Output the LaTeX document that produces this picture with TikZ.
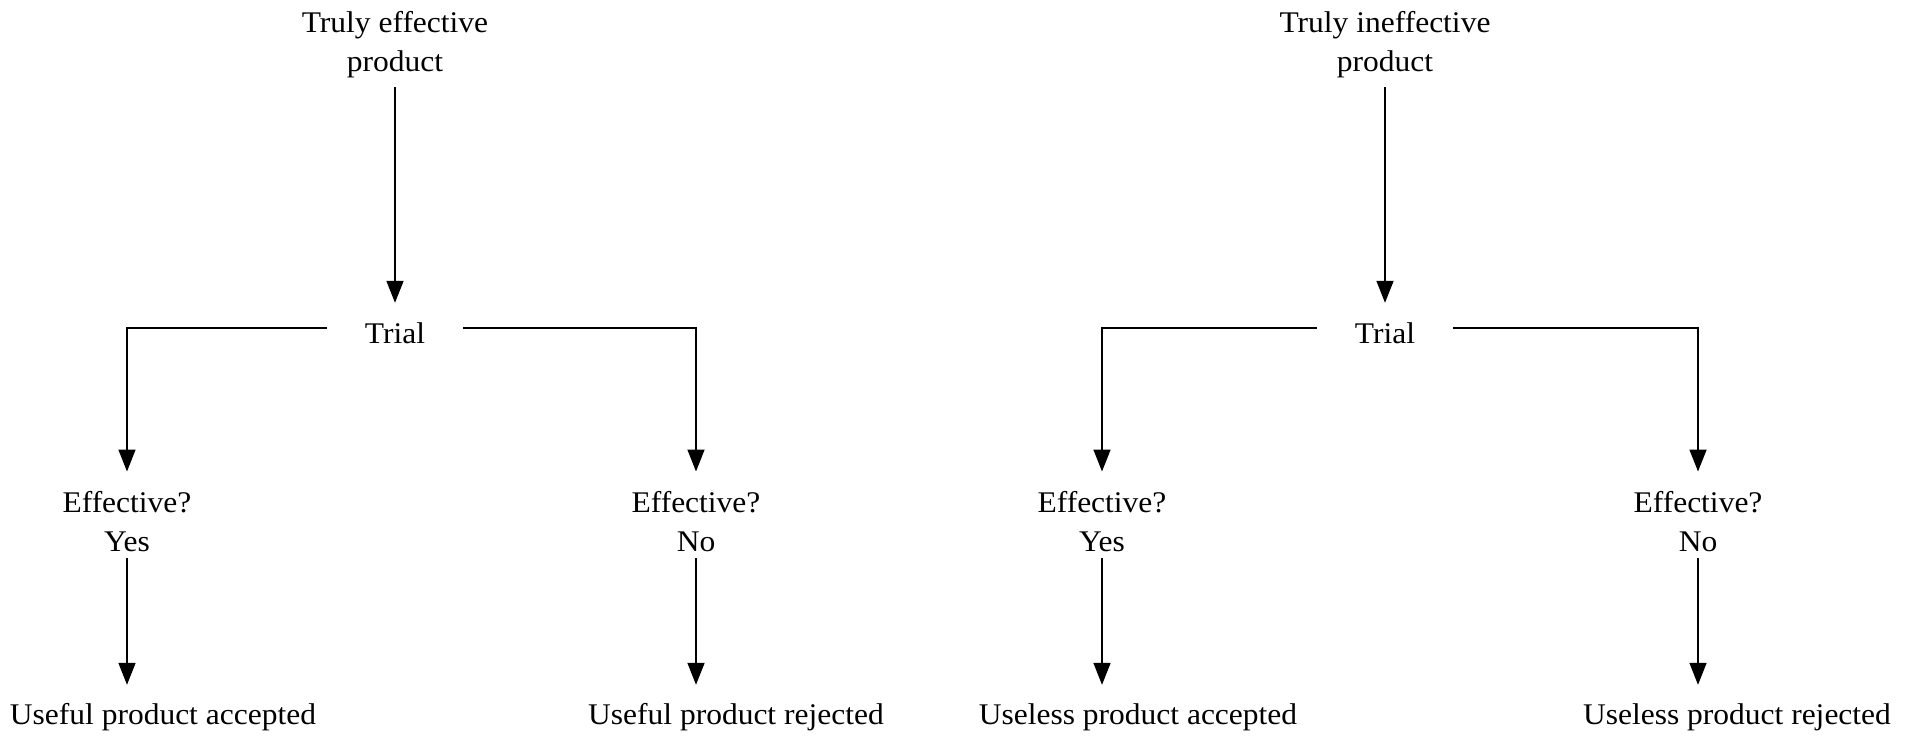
\documentclass[tikz,border=0pt]{standalone}
\usepackage{fontspec}
\setmainfont{Liberation Serif}[FakeStretch=1.05]
\usetikzlibrary{arrows.meta}
\tikzset{
  lbl/.style={font=\fontsize{30}{39}\selectfont, inner sep=0pt, anchor=base},
  trialbox/.style={lbl, inner xsep=38pt},
  conn/.style={line width=1.6pt, -{Triangle[width=17pt,length=22pt]}},
}
\newcommand{\twolines}[2]{\begin{tabular}[b]{@{}c@{}}#1\\#2\end{tabular}}
\begin{document}
\begin{tikzpicture}[x=1pt,y=-1pt]
\useasboundingbox (0,0) rectangle (1918,740);
% left tree
\node[lbl] (top1) at (395,71) {\twolines{Truly effective}{product}};
\node[trialbox] (trial1) at (395,343) {\strut Trial};
\node[lbl] (eff1) at (127,551) {\twolines{Effective?}{Yes}};
\node[lbl] (eff2) at (696,551) {\twolines{Effective?}{No}};
\node[lbl] (res1) at (163,724) {\strut Useful product accepted};
\node[lbl] (res2) at (736,724) {\strut Useful product rejected};
% right tree
\node[lbl] (top2) at (1385,71) {\twolines{Truly ineffective}{product}};
\node[trialbox] (trial2) at (1385,343) {\strut Trial};
\node[lbl] (eff3) at (1102,551) {\twolines{Effective?}{Yes}};
\node[lbl] (eff4) at (1698,551) {\twolines{Effective?}{No}};
\node[lbl] (res3) at (1138,724) {\strut Useless product accepted};
\node[lbl] (res4) at (1737,724) {\strut Useless product rejected};
% connectors
\foreach \t/\tr/\a/\b/\ra/\rb in {top1/trial1/eff1/eff2/res1/res2, top2/trial2/eff3/eff4/res3/res4}{
  \draw[conn, shorten <=4.3pt, shorten >=12.7pt] (\t.south) -- (\tr.north);
  \draw[conn, shorten >=13pt] ([yshift=7.2pt]\tr.west) -| (\a.north);
  \draw[conn, shorten >=13pt] ([yshift=7.2pt]\tr.east) -| (\b.north);
  \draw[conn, shorten <=-4.7pt, shorten >=11.7pt] (\a.south) -- (\a.south |- \ra.north);
  \draw[conn, shorten <=-4.7pt, shorten >=11.7pt] (\b.south) -- (\b.south |- \rb.north);
}
\end{tikzpicture}
\end{document}
